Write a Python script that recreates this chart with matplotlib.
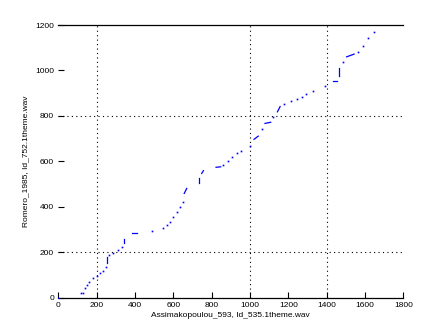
import numpy as np
import matplotlib
matplotlib.use("Agg")
import matplotlib.pyplot as plt

# warping path samples (single dots)
dot_x = [0, 118, 130, 139, 148, 162, 183, 200, 217, 235, 249, 266, 287, 313, 330,
         490, 548, 565, 583, 600, 617, 635, 649, 861, 887, 908, 934, 951, 1000,
         1061, 1122, 1177, 1214, 1243, 1270, 1292, 1330, 1391, 1483, 1565, 1591,
         1617, 1649]
dot_y = [0, 19, 22, 41, 56, 70, 85, 95, 107, 119, 136, 188, 198, 210, 221,
         293, 305, 320, 334, 356, 378, 400, 420, 584, 601, 621, 638, 645, 669,
         742, 794, 851, 867, 873, 885, 895, 911, 931, 1039, 1083, 1108,
         1141, 1168]

# runs of consecutive path points (start x, start y, end x, end y)
runs = [
    (256, 151, 256, 180),
    (343, 239, 343, 258),
    (386, 283, 409, 283),
    (657, 459, 670, 481),
    (736, 503, 736, 525),
    (748, 547, 757, 559),
    (823, 574, 847, 576),
    (1021, 697, 1043, 711),
    (1078, 767, 1108, 772),
    (1143, 818, 1157, 841),
    (1435, 953, 1452, 953),
    (1466, 976, 1466, 1009),
    (1504, 1060, 1543, 1072),
]

xticks = list(range(0, 1801, 200))
yticks = list(range(0, 1201, 200))
grid_x = [200, 1000, 1400]
grid_y = [200, 800]

xlabel = "Assimakopoulou_593, Id_535.1theme.wav"
ylabel = "Romero_1985, Id_752.1theme.wav"

plt.rcParams['font.family'] = ['Liberation Sans', 'DejaVu Sans']

fig = plt.figure(figsize=(4.47, 3.35), dpi=100)
ax = fig.add_axes([0.1304, 0.1113, 0.772, 0.814])

for gx in grid_x:
    ax.axvline(gx, color='black', linestyle=(0, (1, 3)), linewidth=0.8, zorder=1)
for gy in grid_y:
    ax.axhline(gy, color='black', linestyle=(0, (1, 3)), linewidth=0.8, zorder=1)

ax.plot(dot_x, dot_y, linestyle='none', marker='s', markersize=1.2,
        color='blue', markeredgewidth=0, zorder=3)
for x0, y0, x1, y1 in runs:
    ax.plot([x0, x1], [y0, y1], color='blue', linewidth=0.9, zorder=3)

ax.set_xlim(0, 1800)
ax.set_ylim(0, 1200)
ax.set_xticks(xticks)
ax.set_yticks(yticks)
ax.tick_params(direction='in', length=4, width=0.8, labelsize=6, pad=3)
ax.spines['left'].set_visible(False)
ax.spines['right'].set_visible(False)
ax.spines['top'].set_linewidth(0.9)
ax.spines['bottom'].set_linewidth(0.9)

ax.set_xlabel(xlabel, fontsize=6, labelpad=2)
ax.set_ylabel(ylabel, fontsize=6, labelpad=4)

fig.savefig("out.png", dpi=100)
